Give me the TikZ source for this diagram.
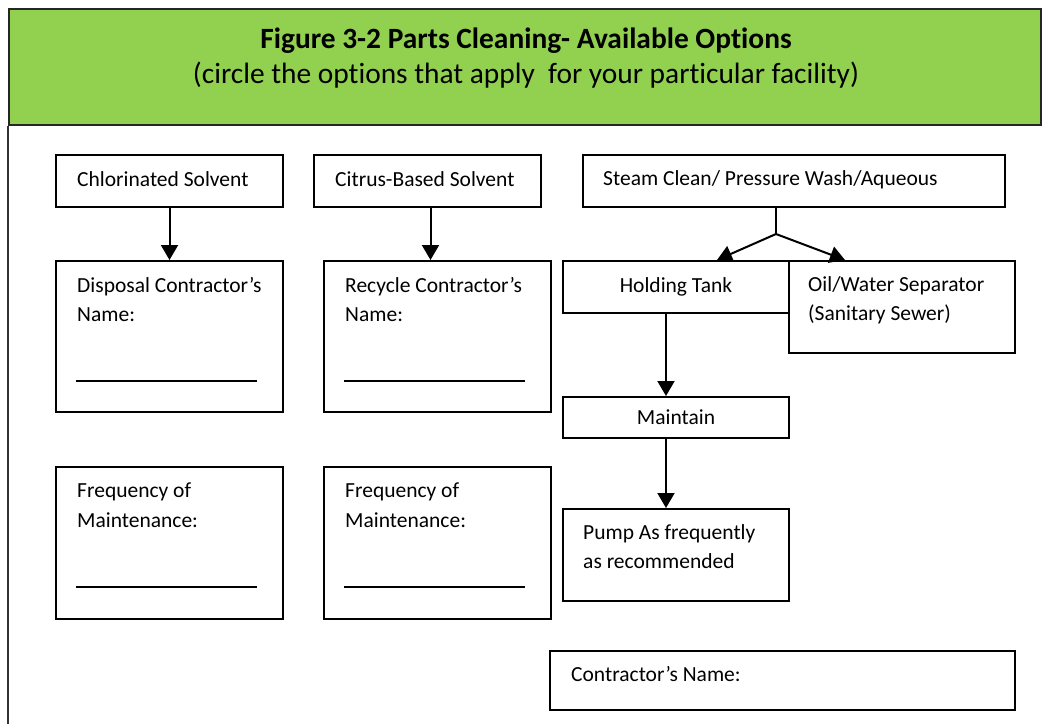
\documentclass[tikz,border=0pt]{standalone}
\usepackage{fontspec}
\setmainfont{Carlito}[Ligatures=NoCommon]
\usetikzlibrary{arrows.meta}
\definecolor{hgreen}{HTML}{92D050}
\begin{document}
\begin{tikzpicture}[x=1pt,y=-1pt,
  box/.style={draw=black, line width=2pt, anchor=north west, inner sep=0pt,
    font=\fontsize{21.5}{29}\selectfont},
  lbl/.style={anchor=base west, inner sep=0pt, font=\fontsize{21.5}{29}\selectfont},
  arr/.style={line width=2pt, -{Triangle[width=17pt,length=15pt]}},
  uline/.style={line width=1.6pt},
  ttl/.style={anchor=base, inner sep=0pt}]
\useasboundingbox (0,0) rectangle (1042,724);
% header
\node[draw=black!85, line width=2pt, fill=hgreen, anchor=north west, inner sep=0pt,
  minimum width=1032pt, minimum height=116pt] (hdr) at (8,8) {};
\node[ttl, font=\fontsize{29.4}{34}\selectfont\bfseries] (title) at (526,48) {Figure 3-2 Parts Cleaning- Available Options};
\node[ttl, font=\fontsize{29.4}{34}\selectfont] (subtitle) at (526,83) {(circle the options that apply\ \ for your particular facility)};
\coordinate (fb) at (8,724);
\draw[line width=1.3pt, black!80] (hdr.south west) -- (fb);
% boxes
\node[box, minimum width=227pt, minimum height=52pt] (chl) at (55,154) {};
\node[box, minimum width=227pt, minimum height=52pt] (cit) at (313,154) {};
\node[box, minimum width=422pt, minimum height=52pt] (stm) at (582,154) {};
\node[box, minimum width=227pt, minimum height=151pt] (dis) at (55,260) {};
\node[box, minimum width=227pt, minimum height=151pt] (rec) at (323,260) {};
\node[box, minimum width=226pt, minimum height=92pt] (oil) at (788,260) {};
\node[box, minimum width=226pt, minimum height=52pt] (hold) at (562,260) {Holding Tank};
\node[box, minimum width=226pt, minimum height=41pt] (mnt) at (562,396) {Maintain};
\node[box, minimum width=227pt, minimum height=152pt] (f1) at (55,466) {};
\node[box, minimum width=227pt, minimum height=152pt] (f2) at (323,466) {};
\node[box, minimum width=226pt, minimum height=92pt] (pump) at (562,508) {};
\node[box, minimum width=465pt, minimum height=59pt] (con) at (549,650) {};
% texts
\node[lbl] (tchl) at (77,186) {Chlorinated Solvent};
\node[lbl] (tcit) at (335,186) {Citrus-Based Solvent};
\node[lbl] (tstm) at (603,185) {Steam Clean/ Pressure Wash/Aqueous};
\node[lbl] (tdis1) at (77,292) {Disposal Contractor’s};
\node[lbl] (tdis2) at (77,321) {Name:};
\node[lbl] (trec1) at (345,292) {Recycle Contractor’s};
\node[lbl] (trec2) at (345,321) {Name:};
\node[lbl] (tf11) at (77,497) {Frequency of};
\node[lbl] (tf12) at (77,527) {Maintenance:};
\node[lbl] (tf21) at (345,497) {Frequency of};
\node[lbl] (tf22) at (345,527) {Maintenance:};
\node[lbl] (toil1) at (808,291) {Oil/Water Separator};
\node[lbl] (toil2) at (808,320) {(Sanitary Sewer)};
\node[lbl] (tpump1) at (583,539) {Pump As frequently};
\node[lbl] (tpump2) at (583,568) {as recommended};
\node[lbl] (tcon) at (571,681) {Contractor’s Name:};
% underlines
\draw[uline] (76,381) -- (257,381);
\draw[uline] (344,381) -- (525,381);
\draw[uline] (76,587) -- (257,587);
\draw[uline] (344,587) -- (525,587);
% connectors
\draw[arr] (chl.south) -- (chl.south |- dis.north);
\draw[arr] (cit.south) ++(3,0) coordinate (cs) -- (cs |- rec.north);
\coordinate (split) at (776,234);
\coordinate (tipA) at (717,260);
\coordinate (tipB) at (845,260);
\draw[line width=2pt] (stm.south -| split) -- (split);
\draw[arr] (split) -- (tipA);
\draw[arr] (split) -- (tipB);
\coordinate (col) at (666,350);
\draw[arr] (hold.south -| col) -- (mnt.north -| col);
\draw[arr] (mnt.south -| col) -- (pump.north -| col);
\end{tikzpicture}
\end{document}
